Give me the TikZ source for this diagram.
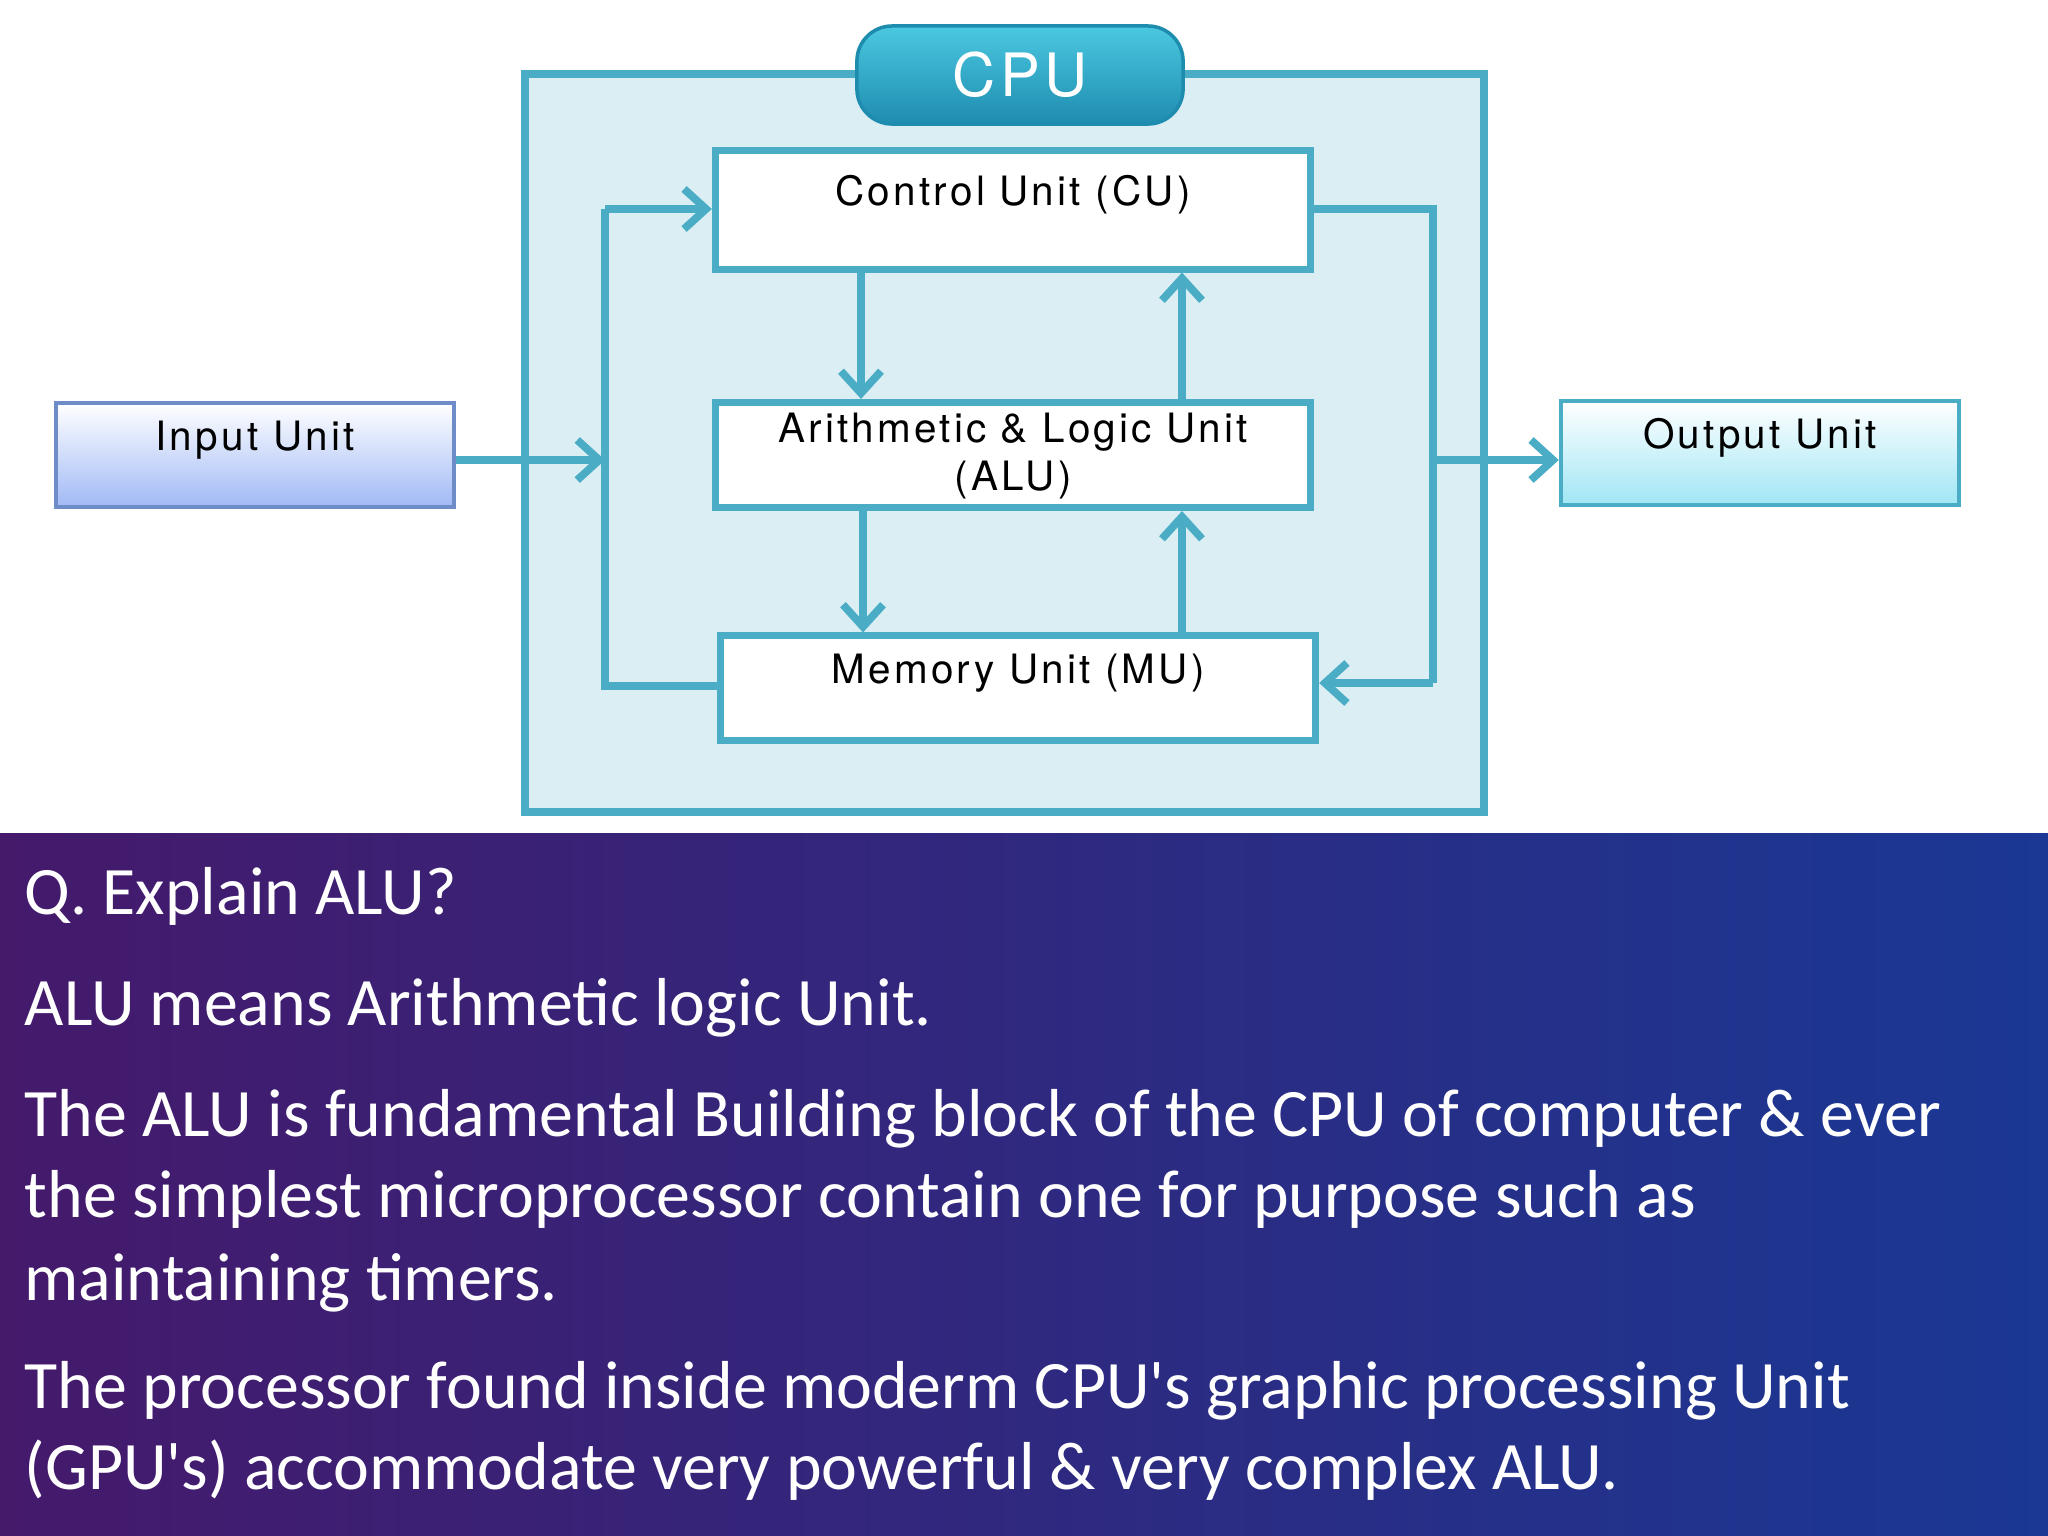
\documentclass[tikz,border=0pt]{standalone}
\usepackage{fontspec}
\setmainfont{Carlito}
\newfontfamily\diag[LetterSpace=8]{TeX Gyre Heros}
\usetikzlibrary{arrows.meta}
\definecolor{lineblue}{RGB}{75,172,198}
\definecolor{cpufill}{RGB}{218,238,243}
\definecolor{tabtop}{RGB}{75,200,225}
\definecolor{tabbot}{RGB}{30,140,175}
\tikzset{
  unit/.style={draw=lineblue,line width=2pt,fill=white,inner sep=0pt},
  lbl/.style={font=\diag\fontsize{11.5}{13.5}\selectfont,align=center,inner sep=0pt},
  flow/.style={draw=lineblue,line width=2.2pt,-{Straight Barb[length=2.2mm,width=4mm]}},
  bus/.style={draw=lineblue,line width=2.2pt},
  txt/.style={anchor=base west,inner sep=0pt,text=white,font=\fontsize{19.3}{23}\selectfont}
}
\begin{document}
\begin{tikzpicture}[x=0.01cm,y=-0.01cm]
\useasboundingbox (0,0) rectangle (2048,1536);
\fill[white] (0,0) rectangle (2048,833);
\shade[left color={rgb,1:red,0.27;green,0.10;blue,0.42}, right color={rgb,1:red,0.10;green,0.22;blue,0.58}] (0,833) rectangle (2048,1536);
% CPU frame
\draw[draw=lineblue,line width=2.5pt,fill=cpufill] (525,74) rectangle (1484,812);
\node[rounded corners=10pt,top color=tabtop,bottom color=tabbot,draw=tabbot,line width=1pt,
  minimum width=3.26cm,minimum height=0.98cm,text=white,font=\diag\fontsize{17}{20}\selectfont] (cpu) at (1020,75) {CPU};
% units
\node[unit,minimum width=5.95cm,minimum height=1.18cm] (cu) at (1013,210) {};
\node[lbl] (cut) at (1013,195) {Control Unit (CU)};
\node[unit,minimum width=5.95cm,minimum height=1.05cm] (alu) at (1013,455) {};
\node[lbl] (alut) at (1013,456) {Arithmetic \& Logic Unit\\(ALU)};
\node[unit,minimum width=5.95cm,minimum height=1.04cm] (mu) at (1018,688) {};
\node[lbl] (mut) at (1018,673) {Memory Unit (MU)};
\node[unit,minimum width=3.97cm,minimum height=1.04cm,fill=none,top color=white,bottom color={rgb,255:red,160;green,185;blue,245},draw={rgb,255:red,110;green,140;blue,200},line width=1.2pt] (in) at (255,455) {};
\node[lbl] (int) at (255,440) {Input Unit};
\node[unit,minimum width=3.98cm,minimum height=1.04cm,fill=none,top color=white,bottom color={rgb,255:red,160;green,230;blue,245},line width=1.2pt] (out) at (1760,453) {};
\node[lbl] (outt) at (1760,438) {Output Unit};
% bus coordinates
\coordinate (lb) at (605,460);
\coordinate (rb) at (1433,460);
\draw[bus] (mu.west |- 0,686) -| (605,209);
\draw[flow] (605,209) -- (cu.west |- 0,209);
\draw[flow] (in.east |- 0,460) -- (lb);
\draw[bus] (cu.east |- 0,209) -| (1433,683);
\draw[flow] (1433,683) -- (mu.east |- 0,683);
\draw[flow] (rb) -- (out.west |- 0,460);
\draw[flow] (861,269) -- (alu.north -| 861,0);
\draw[flow] (1182,402) -- (cu.south -| 1182,0);
\draw[flow] (863,507) -- (mu.north -| 863,0);
\draw[flow] (1182,636) -- (alu.south -| 1182,0);
% text
\node[txt] (t1) at (24,914) {Q. Explain ALU?};
\node[txt] (t2) at (24,1025) {ALU means Arithmetic logic Unit.};
\node[txt] (t3) at (24,1136) {The ALU is fundamental Building block of the CPU of computer \& ever};
\node[txt] (t4) at (24,1217) {the simplest microprocessor contain one for purpose such as};
\node[txt] (t5) at (24,1300) {maintaining timers.};
\node[txt] (t6) at (24,1408) {The processor found inside moderm CPU\textquotesingle s graphic processing Unit};
\node[txt] (t7) at (24,1489) {(GPU\textquotesingle s) accommodate very powerful \& very complex ALU.};
\end{tikzpicture}
\end{document}
